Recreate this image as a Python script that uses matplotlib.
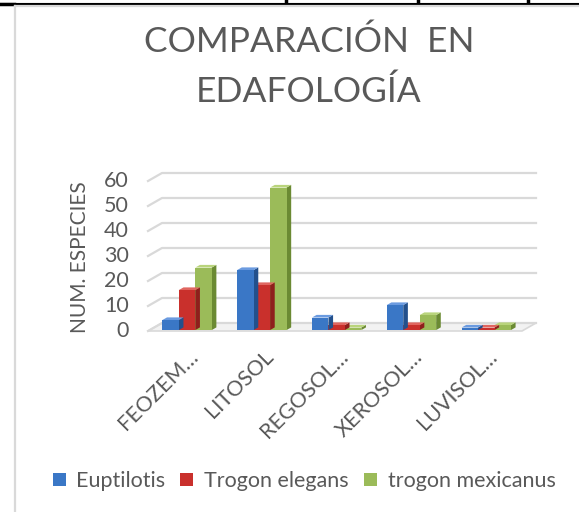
import matplotlib
matplotlib.use("Agg")
import matplotlib.pyplot as plt
from matplotlib.patches import Polygon, Rectangle
from matplotlib.lines import Line2D
import numpy as np

plt.rcParams['font.family'] = ['Lato', 'DejaVu Sans']

title = "COMPARACIÓN  EN\nEDAFOLOGÍA"
categories = ["FEOZEM…", "LITOSOL", "REGOSOL…", "XEROSOL…", "LUVISOL…"]
series_names = ["Euptilotis", "Trogon elegans", "trogon mexicanus"]
euptilotis = [4, 24, 5, 10, 1]
trogon_elegans = [16, 18, 2, 2, 1]
trogon_mexicanus = [25, 57, 1, 6, 2]
yticks = [0, 10, 20, 30, 40, 50, 60]
ylabel = "NUM. ESPECIES"

series = [euptilotis, trogon_elegans, trogon_mexicanus]
front_cols = ["#3a77c6", "#c9302c", "#9bbb59"]
side_cols = ["#23508c", "#8e1f1c", "#6b8a33"]
top_cols = ["#6b9be0", "#e06660", "#b9d47c"]
text_col = "#595959"
grid_col = "#d9d9d9"

W, H = 579, 512
fig = plt.figure(figsize=(W / 100, H / 100), dpi=100)

# axes: x from -0.5..4.5 -> px 148..522 ; y 0..60 -> px(from top) 331..181
ax = fig.add_axes([148 / W, (H - 331) / H, 374 / W, 150 / H])
ax.set_xlim(-0.5, len(categories) - 0.5)
ax.set_ylim(0, 60)
ax.axis('off')

# depth offsets in data units
DX = 14 / 74.8
DY = 8 / 2.5

# floor
floor = Polygon([(-0.5, 0), (4.5, 0), (4.5 + DX, DY), (-0.5 + DX, DY)],
                closed=True, facecolor="#f2f2f2", edgecolor=grid_col, lw=1.2,
                clip_on=False, zorder=1)
ax.add_patch(floor)
# gridlines on back wall with left stubs
for v in yticks:
    ax.add_line(Line2D([-0.5, -0.5 + DX, 4.5 + DX], [v, v + DY, v + DY],
                       color=grid_col, lw=1.6, clip_on=False, zorder=1))
    ax.text(-0.5 - 0.26, v, str(v), ha='right', va='center', fontsize=15.5,
            color=text_col, transform=ax.transData)

# bars (pseudo 3D)
w = 0.22
f0, f1 = 0.12, 0.45  # depth fraction front/back of bars
for i, vals in enumerate(series):
    for j, v in enumerate(vals):
        x0 = j + (i - 1) * w - w / 2 + f0 * DX
        b0 = f0 * DY
        dx = (f1 - f0) * DX
        dy = (f1 - f0) * DY
        z = 3 + j * 0.01 - i * 0.001
        # side face
        ax.add_patch(Polygon([(x0 + w, b0), (x0 + w + dx, b0 + dy),
                              (x0 + w + dx, b0 + dy + v), (x0 + w, b0 + v)],
                             closed=True, facecolor=side_cols[i], edgecolor='none',
                             clip_on=False, zorder=z))
        # top face
        ax.add_patch(Polygon([(x0, b0 + v), (x0 + dx, b0 + v + dy),
                              (x0 + w + dx, b0 + v + dy), (x0 + w, b0 + v)],
                             closed=True, facecolor=top_cols[i], edgecolor='none',
                             clip_on=False, zorder=z))
        # front face
        ax.add_patch(Rectangle((x0, b0), w, v, facecolor=front_cols[i],
                               edgecolor='none', clip_on=False, zorder=z + 0.0005))

# category labels
for j, c in enumerate(categories):
    ax.text(j + 0.13, -9, c, rotation=45, ha='right', va='center',
            rotation_mode='anchor', fontsize=15.5, color=text_col)

# y label
fig.text(80 / W, 1 - 257 / H, ylabel, rotation=90, ha='center', va='center',
         fontsize=15, color=text_col)

# title
fig.text(309 / W, 1 - 67 / H, title, ha='center', va='center', fontsize=25.5,
         color=text_col, linespacing=1.65)

# legend
handles = [Rectangle((0, 0), 1, 1, facecolor=front_cols[i], edgecolor='none')
           for i in range(3)]
fig.legend(handles, series_names, loc='center', bbox_to_anchor=(304 / W, 1 - 481 / H),
           ncol=3, frameon=False, fontsize=15.5, labelcolor=text_col,
           handlelength=0.6, handleheight=0.6, handletextpad=0.5, columnspacing=0.7)

# frame decorations (sheet borders)
fig.add_artist(Line2D([0, 1], [1 - 3.5 / H, 1 - 3.5 / H], color='black', lw=1.5))
fig.add_artist(Line2D([0, 14 / W], [1 - 3.5 / H, 1 - 3.5 / H], color='black', lw=2.5))
for xp in [286, 418, 528]:
    fig.add_artist(Line2D([xp / W, xp / W], [1, 1 - 3.5 / H], color='black', lw=2.5))
fig.add_artist(Line2D([15 / W, 1], [1 - 6 / H, 1 - 6 / H], color=grid_col, lw=1.6))
fig.add_artist(Line2D([15 / W, 15 / W], [0, 1 - 6 / H], color=grid_col, lw=1.6))

fig.savefig("out.png", dpi=100)
